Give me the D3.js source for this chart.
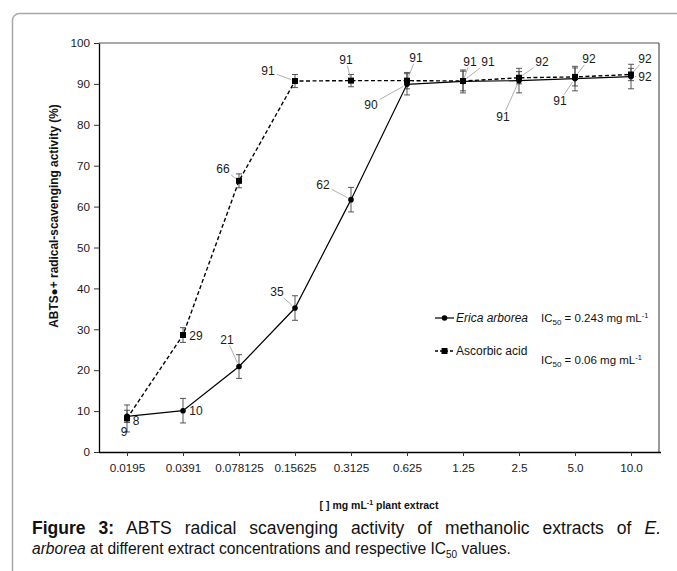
<!DOCTYPE html>
<html><head><meta charset="utf-8">
<script src="https://cdn.jsdelivr.net/npm/d3@7"></script>
<style>
html,body{margin:0;padding:0;background:#fff;}
body{width:677px;height:571px;overflow:hidden;position:relative;font-family:"Liberation Sans",Arial,sans-serif;}
.cap{position:absolute;left:32px;width:629px;line-height:20px;color:#111;white-space:normal;}
#cap1{top:518px;font-size:17.5px;text-align:justify;text-align-last:justify;}
#cap2{top:539px;font-size:15.6px;}
</style></head><body>
<svg id="chart" width="677" height="571" style="position:absolute;left:0;top:0"></svg>
<div id="cap1" class="cap"></div>
<div id="cap2" class="cap"></div>
<script>
// ---- data ----
const categories = ["0.0195","0.0391","0.078125","0.15625","0.3125","0.625","1.25","2.5","5.0","10.0"];
const ericaValues = [8.7, 10.1, 20.9, 35.2, 61.7, 89.9, 90.6, 90.8, 91.3, 91.8];
const ericaErrors = [1.5, 3.0, 2.9, 3.0, 3.0, 2.6, 2.8, 3.0, 3.0, 3.0];
const ericaLabels = ["9","10","21","35","62","90","91","91","91","92"];
const ascorbicValues = [8.2, 28.6, 66.3, 90.7, 90.8, 90.8, 90.7, 91.5, 91.7, 92.3];
const ascorbicErrors = [3.3, 1.8, 1.7, 1.6, 1.5, 2.0, 2.4, 1.5, 2.2, 1.5];
const ascorbicLabels = ["8","29","66","91","91","91","91","92","92","92"];
const yTicks = [0,10,20,30,40,50,60,70,80,90,100];
const seriesNames = ["Erica arborea","Ascorbic acid"];
const ic50Values = ["0.243","0.06"];

// ---- layout (label offsets in px from the point; leader flag) ----
const ericaLabelLayout = [[-3,15,0],[13,0,0],[-12,-27,1],[-18,-16,1],[-28,-15,1],[-36,20,1],[7,-20,1],[-16,36,1],[-15,22,1],[14,0,1]];
const ascorbicLabelLayout = [[9,2,0],[13,1,0],[-16,-12,1],[-27,-10,1],[-5,-21,1],[9,-23,1],[25,-19,1],[23,-16,1],[14,-18,1],[14,-16,1]];

const svg = d3.select("#chart");
const L = 99, R = 659, T = 43, B = 452;
const x = d3.scalePoint().domain(categories).range([L, R]).padding(0.5);
const y = d3.scaleLinear().domain([0, 100]).range([B, T]);

// outer frame
svg.append("rect").attr("x",12.5).attr("y",13.5).attr("width",700).attr("height",620)
  .attr("rx",7).attr("fill","none").attr("stroke","#a8a8a8").attr("stroke-width",1.5);

// plot frame top/right
svg.append("line").attr("x1",L).attr("x2",R).attr("y1",T).attr("y2",T).attr("stroke","#555").attr("stroke-width",1.2);
svg.append("line").attr("x1",R).attr("x2",R).attr("y1",T).attr("y2",B).attr("stroke","#555").attr("stroke-width",1.2);

// axes
const gy = svg.append("g").attr("transform",`translate(${L},0)`)
  .call(d3.axisLeft(y).tickValues(yTicks).tickSize(5).tickPadding(4).tickSizeOuter(0));
const gx = svg.append("g").attr("transform",`translate(0,${B})`)
  .call(d3.axisBottom(x).tickSize(4).tickPadding(8).tickSizeOuter(0));
[gy,gx].forEach(g=>{
  g.select(".domain").attr("stroke","#000").attr("stroke-width",1.3);
  g.selectAll(".tick line").attr("stroke","#333");
  g.selectAll(".tick text").attr("fill","#1a1a1a").style("font-family","'Liberation Sans',Arial,sans-serif").style("font-size","11.7px");
});
gx.select(".domain").attr("d",`M${L},0.5H${R+2}`);

// axis titles
svg.append("text").attr("transform","translate(58,216) rotate(-90)").attr("text-anchor","middle")
  .style("font-size","11.9px").style("font-weight","bold").attr("fill","#111")
  .text("ABTS\u25CF+ radical-scavenging activity (%)");
const xt = svg.append("text").attr("x",(L+R)/2).attr("y",509).attr("text-anchor","middle")
  .style("font-size","10.5px").style("font-weight","bold").attr("fill","#111");
xt.append("tspan").text("[ ] mg mL");
xt.append("tspan").attr("dy",-4).style("font-size","7px").text("-1");
xt.append("tspan").attr("dy",4).text(" plant extract");

// lines
const lineGen = d3.line().x((d,i)=>x(categories[i])).y(d=>y(d));
svg.append("path").datum(ascorbicValues).attr("d",lineGen).attr("fill","none")
  .attr("stroke","#000").attr("stroke-width",1.4).attr("stroke-dasharray","4,2.5");
svg.append("path").datum(ericaValues).attr("d",lineGen).attr("fill","none")
  .attr("stroke","#000").attr("stroke-width",1.2);

// error bars
function errBars(vals, errs){
  const g = svg.append("g").attr("stroke","#444").attr("stroke-width",0.9);
  vals.forEach((v,i)=>{
    const cx = x(categories[i]), y1 = y(v+errs[i]), y2 = y(v-errs[i]);
    g.append("line").attr("x1",cx).attr("x2",cx).attr("y1",y1).attr("y2",y2);
    g.append("line").attr("x1",cx-3).attr("x2",cx+3).attr("y1",y1).attr("y2",y1);
    g.append("line").attr("x1",cx-3).attr("x2",cx+3).attr("y1",y2).attr("y2",y2);
  });
}
errBars(ascorbicValues, ascorbicErrors);
errBars(ericaValues, ericaErrors);

// markers
svg.append("g").selectAll("rect").data(ascorbicValues).join("rect")
  .attr("x",(d,i)=>x(categories[i])-3).attr("y",d=>y(d)-3).attr("width",6).attr("height",6).attr("fill","#000");
svg.append("g").selectAll("circle").data(ericaValues).join("circle")
  .attr("cx",(d,i)=>x(categories[i])).attr("cy",d=>y(d)).attr("r",2.8).attr("fill","#000");

// data labels with leader lines
function dataLabels(vals, labels, layout){
  const g = svg.append("g");
  vals.forEach((v,i)=>{
    const px = x(categories[i]), py = y(v);
    const [dx,dy,lead] = layout[i];
    const lx = px+dx, ly = py+dy;
    const t = g.append("text").attr("x",lx).attr("y",ly).attr("dy","0.35em").attr("text-anchor","middle")
      .style("font-size","12px").attr("fill","#1a1a1a").text(labels[i]);
    if(lead){
      const w = t.node().getComputedTextLength()/2 + 2, h = 6;
      const vx = px-lx, vy = py-ly, len = Math.hypot(vx,vy);
      const s = Math.min(Math.abs(vx)>0? w/Math.abs(vx):Infinity, Math.abs(vy)>0? h/Math.abs(vy):Infinity);
      const sx = lx+vx*s, sy = ly+vy*s;
      const ex = px - vx/len*4, ey = py - vy/len*4;
      g.append("line").attr("x1",sx).attr("y1",sy).attr("x2",ex).attr("y2",ey)
        .attr("stroke","#9a9a9a").attr("stroke-width",0.8);
    }
  });
}
dataLabels(ericaValues, ericaLabels, ericaLabelLayout);
dataLabels(ascorbicValues, ascorbicLabels, ascorbicLabelLayout);

// legend
const lg = svg.append("g").style("font-size","12px").attr("fill","#111");
lg.append("line").attr("x1",435).attr("x2",454).attr("y1",318).attr("y2",318).attr("stroke","#000").attr("stroke-width",1.2);
lg.append("circle").attr("cx",444.5).attr("cy",318).attr("r",2.8).attr("fill","#000");
lg.append("text").attr("x",456).attr("y",322).style("font-style","italic").text(seriesNames[0]);
lg.append("line").attr("x1",435).attr("x2",455).attr("y1",351).attr("y2",351).attr("stroke","#000").attr("stroke-width",1.4).attr("stroke-dasharray","3,2");
lg.append("rect").attr("x",441.5).attr("y",348).attr("width",6).attr("height",6).attr("fill","#000");
lg.append("text").attr("x",456).attr("y",355).text(seriesNames[1]);
function ic50(xp, yp, val){
  const t = lg.append("text").attr("x",xp).attr("y",yp).style("font-size","11.5px");
  t.append("tspan").text("IC");
  t.append("tspan").attr("dy",3).style("font-size","8px").text("50");
  t.append("tspan").attr("dy",-3).text(` = ${val} mg mL`);
  t.append("tspan").attr("dy",-4).style("font-size","7.5px").text("-1");
}
ic50(541, 322, ic50Values[0]);
ic50(541, 364, ic50Values[1]);

// caption
const l1 = d3.select("#cap1");
l1.append("b").text("Figure 3:");
l1.append("span").text(" ABTS radical scavenging activity of methanolic extracts of ");
l1.append("i").text("E.");
const l2 = d3.select("#cap2");
l2.append("i").text("arborea");
l2.append("span").text(" at different extract concentrations and respective IC");
l2.append("sub").style("font-size","10px").style("line-height","0").text("50");
l2.append("span").text(" values.");
</script>
</body></html>
